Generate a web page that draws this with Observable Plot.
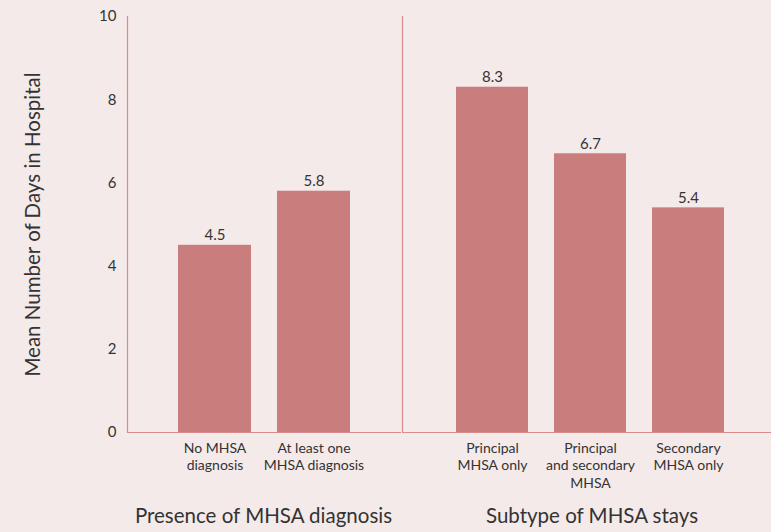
<!DOCTYPE html>
<html><head><meta charset="utf-8">
<script src="https://cdn.jsdelivr.net/npm/d3@7"></script>
<script src="https://cdn.jsdelivr.net/npm/@observablehq/plot@0.6"></script>
<style>
html,body{margin:0;padding:0;background:#f5eaea;}
#wrap{display:flex;width:771px;height:532px;overflow:hidden;}
</style></head>
<body><div id="wrap"></div>
<script>
const yLabel = "Mean Number of Days in Hospital";
const groupTitles = ["Presence of MHSA diagnosis", "Subtype of MHSA stays"];
const presenceCategories = ["No MHSA\ndiagnosis", "At least one\nMHSA diagnosis"];
const presenceValues = [4.5, 5.8];
const subtypeCategories = ["Principal\nMHSA only", "Principal\nand secondary\nMHSA", "Secondary\nMHSA only"];
const subtypeValues = [8.3, 6.7, 5.4];
const yTicks = [0, 2, 4, 6, 8, 10];

const barColor = "#c97d7d";
const axisColor = "#d98a8a";
const textColor = "#333333";
const font = "Lato, 'Open Sans', sans-serif";

function panel({cats, vals, title, titleDx, width, marginLeft, range, withY}) {
  const data = cats.map((c, i) => ({cat: c, val: vals[i]}));
  const marks = [
    Plot.barY(data, {x: "cat", y: "val", fill: barColor}),
    Plot.text(data, {x: "cat", y: "val", text: d => d.val.toFixed(1), dy: -10, fontSize: 15, fill: textColor}),
    Plot.ruleY([0], {stroke: axisColor, strokeWidth: 1.2}),
    Plot.frame({anchor: "left", stroke: axisColor, strokeWidth: 1.2}),
    Plot.axisX({tickSize: 0, tickPadding: 8, fontSize: 14, label: null, lineHeight: 1.25, fill: textColor}),
    Plot.text([title], {frameAnchor: "bottom", dx: titleDx, dy: 90, fontSize: 20.5, fill: textColor})
  ];
  if (withY) {
    marks.push(Plot.axisY(yTicks, {tickSize: 0, tickPadding: 11, fontSize: 15, label: null, fill: textColor}));
    marks.push(Plot.text([yLabel], {frameAnchor: "left", textAnchor: "middle", rotate: -90, dx: -94, fontSize: 20.5, fill: textColor}));
  }
  return Plot.plot({
    width, height: 532,
    marginTop: 16, marginBottom: 100, marginLeft, marginRight: 0,
    style: {background: "transparent", fontFamily: font, color: textColor},
    x: {domain: cats, range, paddingInner: 0.264, paddingOuter: 0},
    y: {domain: [0, 10], axis: null},
    marks
  });
}

const wrap = document.getElementById("wrap");
wrap.append(panel({cats: presenceCategories, vals: presenceValues, title: groupTitles[0], titleDx: -1, width: 401, marginLeft: 127, range: [178, 350], withY: true}));
wrap.append(panel({cats: subtypeCategories, vals: subtypeValues, title: groupTitles[1], titleDx: 5, width: 370, marginLeft: 1, range: [55, 324], withY: false}));
</script></body></html>
